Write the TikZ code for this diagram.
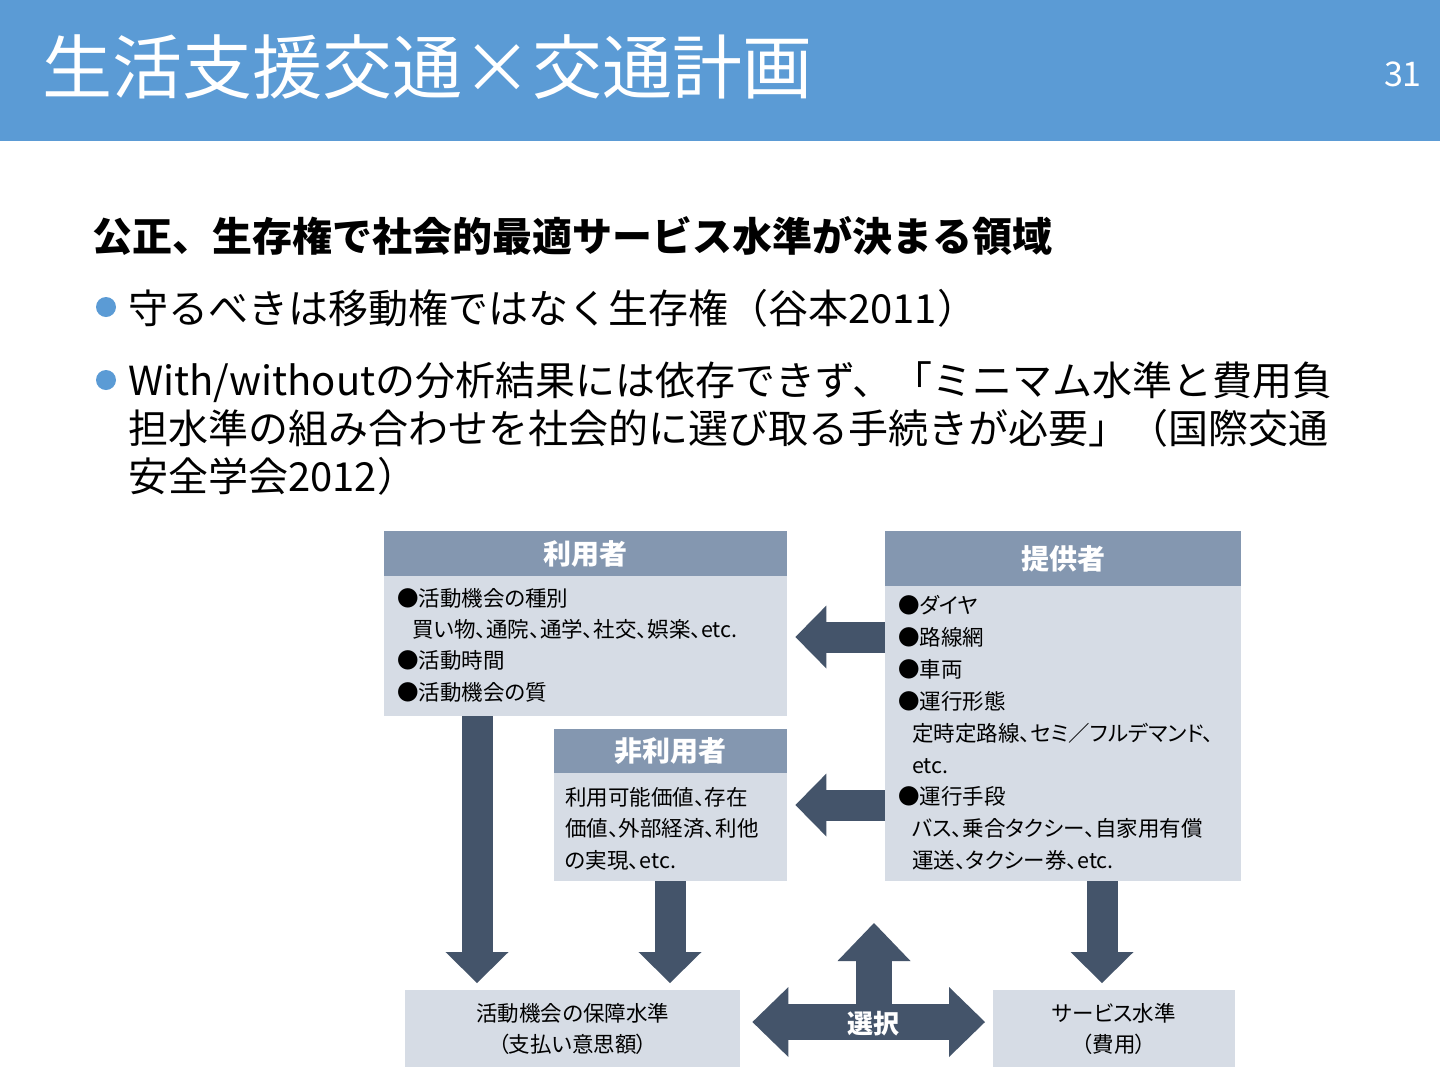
\documentclass[tikz,border=0pt]{standalone}
\usepackage{fontspec}
\setmainfont{Noto Sans CJK JP}
\newfontfamily\jpprop[RawFeature=+palt]{Noto Sans CJK JP}
\usepackage{tikz}
\usepackage{xcolor}
\definecolor{vizBanner}{HTML}{5B9BD5}
\definecolor{vizHead}{HTML}{8497B0}
\definecolor{vizBody}{HTML}{D6DCE5}
\definecolor{vizArrow}{HTML}{44546A}
\usetikzlibrary{arrows.meta}

\begin{document}
\begin{tikzpicture}[x=1pt, y=-1pt,
  box/.style={rectangle, draw=none, inner sep=0pt, anchor=north west},
  headbox/.style={box, fill=vizHead, text=white, font=\fontsize{28}{28}\selectfont\bfseries},
  bodybox/.style={box, fill=vizBody},
  endbox/.style={box, fill=vizBody, align=center, font=\jpprop\fontsize{21.5}{31}\selectfont},
  txt/.style={anchor=base west, inner sep=0pt, font=\jpprop\fontsize{21.5}{21.5}\selectfont},
  bultext/.style={anchor=base west, inner sep=0pt, font=\fontsize{40}{40}\selectfont},
  downarrow/.style={draw=vizArrow, line width=31pt, -{Triangle[length=31pt, width=63pt, line width=0pt]}},
  uparrow/.style={draw=vizArrow, line width=36pt, -{Triangle[length=38pt, width=73pt, line width=0pt]}},
  bothways/.style={draw=vizArrow, line width=36pt, {Triangle[length=36pt, width=70pt, line width=0pt]}-{Triangle[length=36pt, width=70pt, line width=0pt]}}]
  \useasboundingbox (0,0) rectangle (1440,1080);
  \fill[white] (0,0) rectangle (1440,1080);
  % title bar
  \fill[vizBanner] (0,0) rectangle (1440,141);
  \node[anchor=base west, inner sep=0pt, text=white, font=\fontsize{70}{70}\selectfont] (title) at (42,93) {生活支援交通×交通計画};
  \node[anchor=base east, inner sep=0pt, text=white, font=\fontsize{34}{34}\selectfont] (pagenum) at (1422,86) {31};
  % text
  \node[bultext, font=\fontsize{40}{40}\selectfont\bfseries] (lead) at (92,251) {公正、生存権で社会的最適サービス水準が決まる領域};
  \fill[vizBanner] (106,307) circle (10pt);
  \node[bultext] (b1) at (128,323) {守るべきは移動権ではなく生存権（谷本2011）};
  \fill[vizBanner] (106,380) circle (10pt);
  \node[bultext] (b2a) at (128,395) {With/withoutの分析結果には依存できず、「ミニマム水準と費用負};
  \node[bultext] (b2b) at (128,443) {担水準の組み合わせを社会的に選び取る手続きが必要」（国際交通};
  \node[bultext] (b2c) at (128,491) {安全学会2012）};
  % boxes
  \node[headbox, minimum width=403pt, minimum height=45pt] (userhead) at (384,531) {利用者};
  \node[bodybox, minimum width=403pt, minimum height=140pt] (userbody) at (384,576) {};
  \node[txt] (u1) at (397,606) {●活動機会の種別};
  \node[txt] (u2) at (412,637) {買い物、通院、通学、社交、娯楽、etc.};
  \node[txt] (u3) at (397,668) {●活動時間};
  \node[txt] (u4) at (397,700) {●活動機会の質};
  \node[headbox, minimum width=233pt, minimum height=44pt] (nonhead) at (554,729) {非利用者};
  \node[bodybox, minimum width=233pt, minimum height=108pt] (nonbody) at (554,773) {};
  \node[txt] (n1) at (565,805) {利用可能価値、存在};
  \node[txt] (n2) at (565,836) {価値、外部経済、利他};
  \node[txt] (n3) at (565,868) {の実現、etc.};
  \node[headbox, minimum width=356pt, minimum height=55pt] (provhead) at (885,531) {提供者};
  \node[bodybox, minimum width=356pt, minimum height=295pt] (provbody) at (885,586) {};
  \node[txt] (p1) at (898,613) {●ダイヤ};
  \node[txt] (p2) at (898,645) {●路線網};
  \node[txt] (p3) at (898,677) {●車両};
  \node[txt] (p4) at (898,709) {●運行形態};
  \node[txt] (p5) at (912,741) {定時定路線、セミ／フルデマンド、};
  \node[txt] (p6) at (912,773) {etc.};
  \node[txt] (p7) at (898,804) {●運行手段};
  \node[txt] (p8) at (912,836) {バス、乗合タクシー、自家用有償};
  \node[txt] (p9) at (912,868) {運送、タクシー券、etc.};
  \node[endbox, minimum width=335pt, minimum height=77pt] (guar) at (405,990) {活動機会の保障水準\\（支払い意思額）};
  \node[endbox, minimum width=242pt, minimum height=77pt] (serv) at (993,990) {サービス水準\\（費用）};
  % arrows
  \draw[downarrow, shorten >=8pt] (provbody.west |- 0,637) -- (userbody.east |- 0,637);
  \draw[downarrow, shorten >=8pt] (provbody.west |- 0,805) -- (nonbody.east |- 0,805);
  \draw[downarrow, shorten >=7pt] (userbody.south -| 477,0) -- (guar.north -| 477,0);
  \draw[downarrow, shorten >=7pt] (nonbody.south -| 670,0) -- (guar.north -| 670,0);
  \draw[downarrow, shorten >=7pt] (provbody.south -| 1102,0) -- (serv.north -| 1102,0);
  \coordinate (selMid) at (874,1022);
  \coordinate (selTop) at (874,923);
  \draw[uparrow] (selMid) -- (selTop);
  \draw[bothways, shorten <=12pt, shorten >=8pt] (guar.east |- selMid) -- (serv.west |- selMid);
  \node[anchor=base, inner sep=0pt, text=white, font=\fontsize{26}{26}\selectfont\bfseries] (sel) at (873,1033) {選択};
\end{tikzpicture}
\end{document}
